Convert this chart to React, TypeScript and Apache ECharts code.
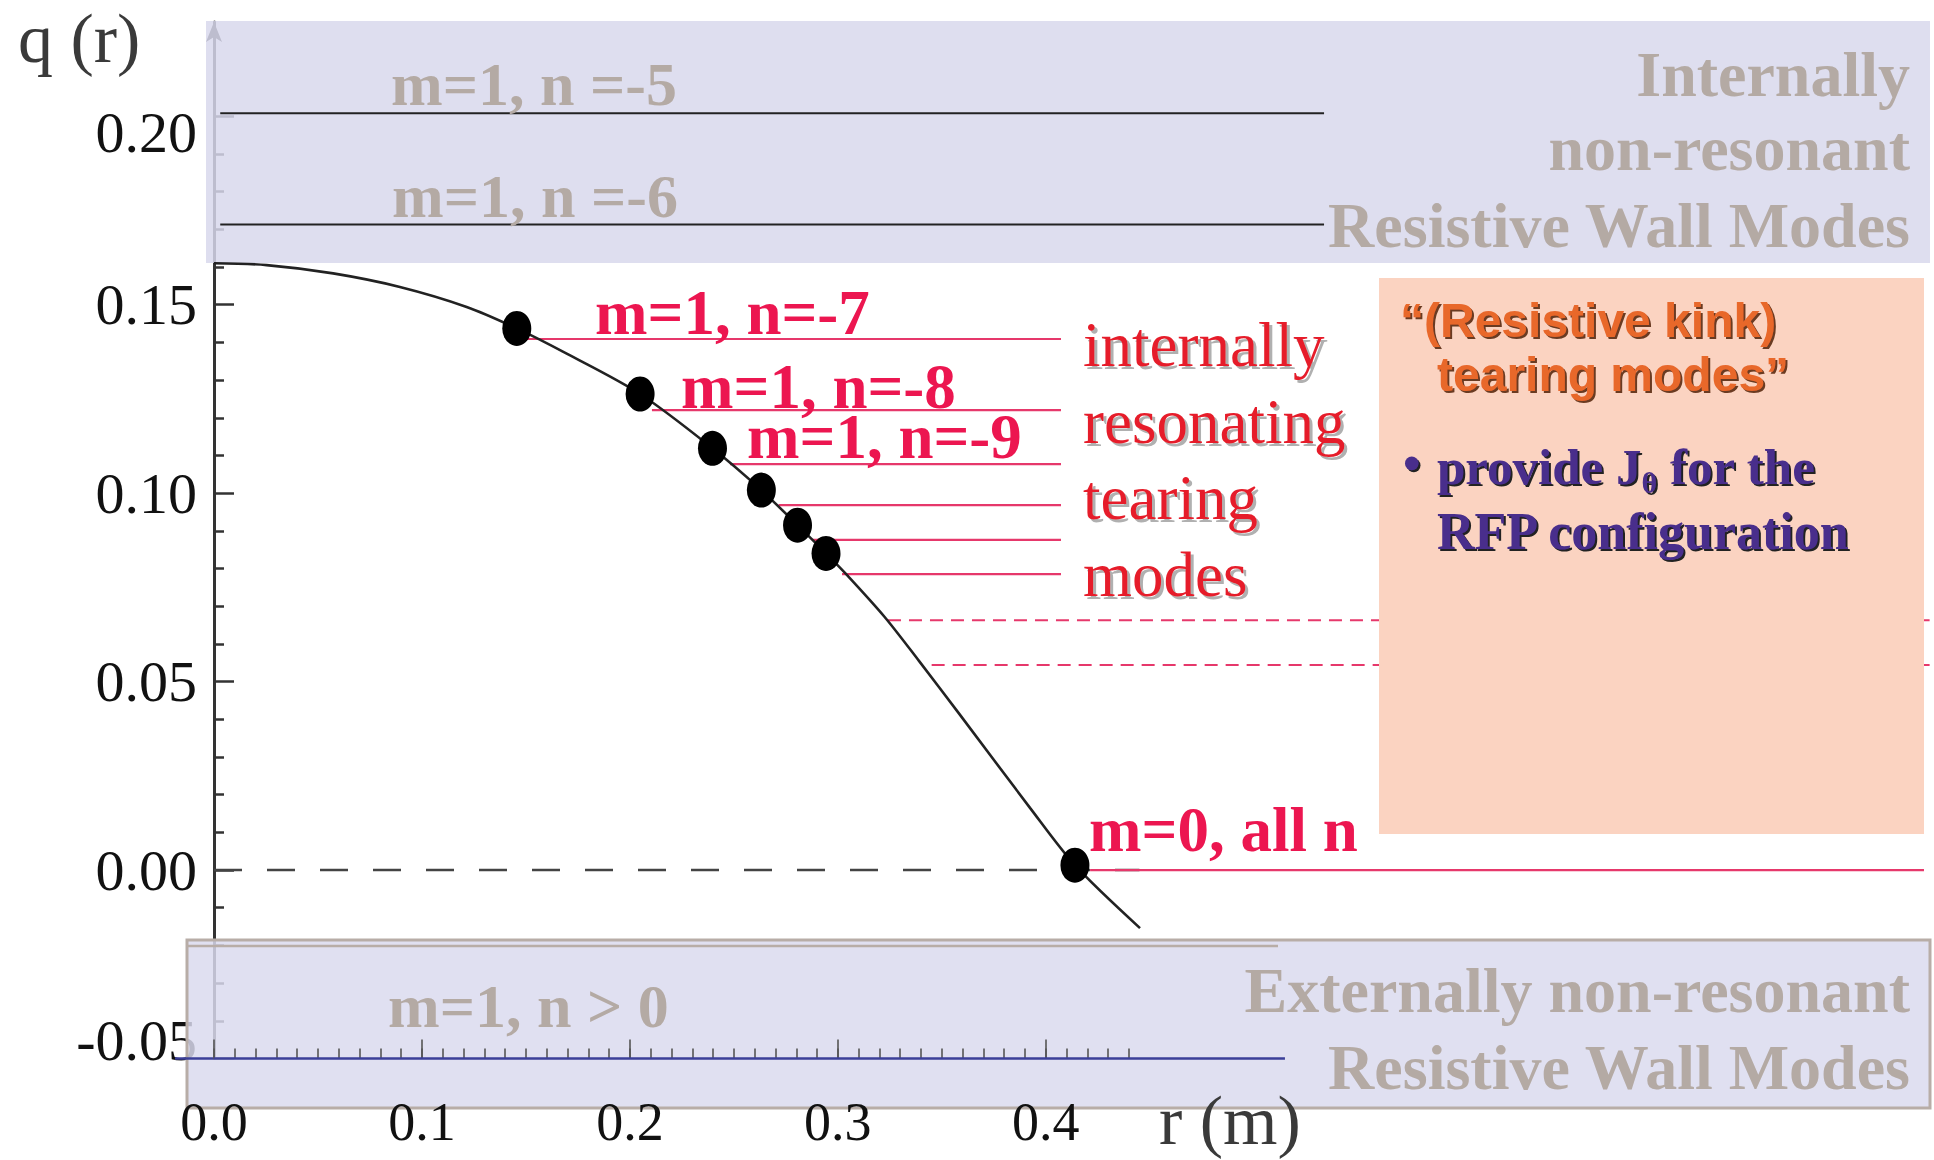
import React, { useEffect, useRef } from 'react';
import * as echarts from 'echarts';

// Safety-factor profile q(r) of the reversed-field pinch
const radius = [0, 0.0253, 0.0573, 0.0894, 0.1215, 0.1456, 0.1696, 0.2049, 0.2397, 0.2632, 0.2806, 0.2943, 0.305, 0.3224, 0.339, 0.3583, 0.3924, 0.414, 0.4453];
const safetyFactor = [0.161, 0.1605, 0.1583, 0.1547, 0.1494, 0.1437, 0.137, 0.1263, 0.1119, 0.1008, 0.0915, 0.084, 0.0779, 0.0672, 0.0555, 0.0415, 0.0165, 0.0013, -0.0154];

// Resonant surfaces marked on the profile (m=1, n=-7 ... -12, then m=0)
const surfaceR = [0.1456, 0.2049, 0.2397, 0.2632, 0.2806, 0.2943, 0.414];
const surfaceQ = [0.1437, 0.1263, 0.1119, 0.1008, 0.0915, 0.084, 0.0013];

// Internally resonating tearing-mode levels
const tearingLabels = ['m=1, n=-7', 'm=1, n=-8', 'm=1, n=-9'];
const tearingQ = [0.1409, 0.122, 0.1077, 0.0968, 0.0876, 0.0785];
const tearingStartR = [0.1486, 0.2106, 0.2481, 0.2715, 0.2876, 0.302];
const tearingEndR = 0.4073;

// Higher-n resonances running out to the right
const highNQ = [0.0663, 0.0544];
const highNStartR = [0.3241, 0.3451];
const highNEndR = 0.825;

// m=0 resonance on the reversal surface
const m0Q = 0;
const m0StartR = 0.4213;
const m0EndR = 0.8223;

// Internally non-resonant resistive wall mode levels (n=-5, n=-6)
const rwmLabels = ['m=1, n =-5', 'm=1, n =-6'];
const rwmQ = [0.2008, 0.1713];
const rwmStartR = 0.003;
const rwmEndR = 0.5338;

// Reference line q = 0
const zeroLineEndR = 0.445;

// Axes
const rMin = 0;
const rMax = 0.825;
const qMin = -0.05;
const qMax = 0.225;
const rAxisLineEnd = 0.515;
const xMajorTicks = [0, 0.1, 0.2, 0.3, 0.4];
const xMinorTicks = Array.from({ length: 45 }, (_, i) => i / 100);
const yMajorTicks = [-0.05, 0, 0.05, 0.1, 0.15, 0.2];
const yMinorTicks = Array.from({ length: 25 }, (_, i) => (i - 4) / 100).filter((v) => Math.round(v * 100) % 5 !== 0);

const SERIF = "'Liberation Serif', 'Times New Roman', serif";
const SANS = "'Liberation Sans', Arial, sans-serif";
const GREY = '#b4aaa4';
const CRIMSON = '#ec1650';
const RED = '#e61f2b';
const LINE_RED = '#e6386b';
const AXIS_BLUE = '#3b3f98';

type TextOpts = {
  align?: 'left' | 'right' | 'center';
  bold?: boolean;
  family?: string;
  fill?: string;
  shadow?: string;
  shadowOffset?: number;
  z?: number;
};

// Text placed by its baseline
function text(str: string, x: number, baseline: number, size: number, o: TextOpts = {}) {
  const align = o.align || 'left';
  const style: any = {
    text: str,
    fill: o.fill || '#333',
    fontSize: size,
    lineHeight: Math.round(size * 0.7),
    fontFamily: o.family || SERIF,
    fontWeight: o.bold ? 'bold' : 'normal',
    align,
    textAlign: align,
    verticalAlign: 'middle',
    textVerticalAlign: 'middle',
  };
  if (o.shadow) {
    style.textShadowColor = o.shadow;
    style.textShadowOffsetX = o.shadowOffset ?? 3;
    style.textShadowOffsetY = o.shadowOffset ?? 3;
    style.textShadowBlur = 1;
  }
  return { type: 'text', x, y: baseline - 0.31 * size, z: o.z ?? 6, silent: true, style };
}

function hLine(r0: number, r1: number, q: number, color: string, width: number, type: any = 'solid', z = 2) {
  return {
    type: 'line',
    data: [[r0, q], [r1, q]],
    symbol: 'none',
    clip: false,
    silent: true,
    z,
    lineStyle: { color, width, type },
  };
}

const series: any[] = [
  // axis line of r, drawn across the lower panel
  { ...hLine(rMin, rAxisLineEnd, qMin, AXIS_BLUE, 2.5), z: 3 },
  hLine(0, zeroLineEndR, 0, '#444', 2.5, [28, 25]),
  ...rwmQ.map((q) => hLine(rwmStartR, rwmEndR, q, '#222', 2)),
  ...tearingQ.map((q, i) => hLine(tearingStartR[i], tearingEndR, q, LINE_RED, 2.2)),
  ...highNQ.map((q, i) => hLine(highNStartR[i], highNEndR, q, LINE_RED, 2, [13, 8])),
  hLine(m0StartR, m0EndR, m0Q, LINE_RED, 2.2),
  {
    type: 'line',
    data: radius.map((r, i) => [r, safetyFactor[i]]),
    smooth: 0.3,
    symbol: 'none',
    clip: false,
    silent: true,
    z: 2,
    lineStyle: { color: '#222', width: 2.6 },
  },
  {
    type: 'scatter',
    data: surfaceR.map((r, i) => [r, surfaceQ[i]]),
    symbol: 'circle',
    symbolSize: [29, 35],
    clip: false,
    silent: true,
    z: 3,
    itemStyle: { color: '#000', opacity: 1 },
  },
];

const yLabelRich = {
  n: { fontSize: 58, fontFamily: SERIF, color: '#111' },
  lo: { fontSize: 58, fontFamily: SERIF, color: '#111', padding: [32, 0, 0, 0] },
  hi: { fontSize: 58, fontFamily: SERIF, color: '#111', padding: [0, 0, 36, 0] },
};

const purpleShadow = { textShadowColor: '#222', textShadowOffsetX: 2, textShadowOffsetY: 2, textShadowBlur: 1 };

const graphic: any[] = [
  // upper panel: internally non-resonant RWMs
  {
    type: 'rect',
    z: 1,
    silent: true,
    shape: { x: 206, y: 21, width: 1724, height: 242 },
    style: { fill: 'rgba(216,216,236,0.84)' },
  },
  // lower panel: externally non-resonant RWMs
  {
    type: 'rect',
    z: 1,
    silent: true,
    shape: { x: 187, y: 940, width: 1743, height: 168 },
    style: { fill: 'rgba(218,218,238,0.84)', stroke: '#b8ada7', lineWidth: 3 },
  },
  {
    type: 'line',
    z: 1,
    silent: true,
    shape: { x1: 187, y1: 946, x2: 1278, y2: 946 },
    style: { stroke: '#b8ada7', lineWidth: 2.5 },
  },
  // stub of the r-axis line reaching left of the q axis
  {
    type: 'line',
    z: 3,
    silent: true,
    shape: { x1: 175, y1: 1058.5, x2: 214, y2: 1058.5 },
    style: { stroke: AXIS_BLUE, lineWidth: 2.5 },
  },
  // note box
  {
    type: 'rect',
    z: 5,
    silent: true,
    shape: { x: 1379, y: 278, width: 545, height: 556 },
    style: { fill: '#fbd3c1' },
  },

  text('q (r)', 18, 60, 70, { fill: '#3a3a3a' }),
  text('r (m)', 1159, 1142, 70, { fill: '#3a3a3a' }),

  text(rwmLabels[0], 391, 103, 62, { bold: true, fill: GREY }),
  text(rwmLabels[1], 392, 215, 62, { bold: true, fill: GREY }),
  text('Internally', 1910, 94, 64, { bold: true, fill: GREY, align: 'right' }),
  text('non-resonant', 1910, 168, 64, { bold: true, fill: GREY, align: 'right' }),
  text('Resistive Wall Modes', 1910, 245, 64, { bold: true, fill: GREY, align: 'right' }),

  text('m=1, n > 0', 388, 1025, 62, { bold: true, fill: GREY }),
  text('Externally non-resonant', 1910, 1010, 64, { bold: true, fill: GREY, align: 'right' }),
  text('Resistive Wall Modes', 1910, 1087, 64, { bold: true, fill: GREY, align: 'right' }),

  text(tearingLabels[0], 595, 333, 63, { bold: true, fill: CRIMSON }),
  text(tearingLabels[1], 681, 407, 63, { bold: true, fill: CRIMSON }),
  text(tearingLabels[2], 747, 457, 63, { bold: true, fill: CRIMSON }),
  text('m=0, all n', 1089, 850, 63, { bold: true, fill: CRIMSON }),

  text('internally', 1083, 365, 63, { fill: RED, shadow: 'rgba(110,110,110,0.55)' }),
  text('resonating', 1083, 442, 63, { fill: RED, shadow: 'rgba(110,110,110,0.55)' }),
  text('tearing', 1083, 518, 63, { fill: RED, shadow: 'rgba(110,110,110,0.55)' }),
  text('modes', 1083, 595, 63, { fill: RED, shadow: 'rgba(110,110,110,0.55)' }),

  text('\u201c(Resistive kink)', 1400, 335, 48, { bold: true, family: SANS, fill: '#e8672c', shadow: '#6a3a22', shadowOffset: 2 }),
  text('tearing modes\u201d', 1437, 389, 48, { bold: true, family: SANS, fill: '#e8672c', shadow: '#6a3a22', shadowOffset: 2 }),
  text('\u2022', 1403, 478, 50, { bold: true, fill: '#4a2f8c', shadow: '#222', shadowOffset: 2 }),
  {
    type: 'text',
    x: 1437,
    y: 483 - 0.31 * 51,
    z: 6,
    silent: true,
    style: {
      text: '{a|provide J}{s|\u03b8}{a| for the}',
      align: 'left',
      textAlign: 'left',
      verticalAlign: 'middle',
      textVerticalAlign: 'middle',
      rich: {
        a: { fontSize: 51, lineHeight: 58, fontFamily: SERIF, fontWeight: 'bold', fill: '#4a2f8c', ...purpleShadow },
        s: { fontSize: 30, lineHeight: 30, padding: [30, 0, 0, 0], fontFamily: SERIF, fontWeight: 'bold', fill: '#4a2f8c', ...purpleShadow },
      },
    },
  },
  text('RFP configuration', 1437, 548, 52, { bold: true, fill: '#4a2f8c', shadow: '#222', shadowOffset: 2 }),
];

const option: any = {
  animation: false,
  backgroundColor: '#ffffff',
  tooltip: { show: false },
  grid: { left: 214, right: 4.4, top: 22, bottom: 101.5, containLabel: false, outerBoundsMode: 'none' },
  xAxis: [
    {
      type: 'value',
      min: rMin,
      max: rMax,
      position: 'bottom',
      z: 3,
      axisLine: { show: false, onZero: false },
      splitLine: { show: false },
      axisTick: { show: true, inside: true, length: 19, customValues: xMajorTicks, lineStyle: { color: '#555', width: 1.6 } },
      axisLabel: {
        show: true,
        customValues: xMajorTicks,
        margin: 36,
        fontSize: 54,
        fontFamily: SERIF,
        color: '#111',
        formatter: (v: number) => v.toFixed(1),
      },
    },
    {
      type: 'value',
      min: rMin,
      max: rMax,
      position: 'bottom',
      z: 3,
      axisLine: { show: false, onZero: false },
      splitLine: { show: false },
      axisLabel: { show: false },
      axisTick: { show: true, inside: true, length: 10, customValues: xMinorTicks, lineStyle: { color: '#555', width: 1.6 } },
    },
  ],
  yAxis: [
    {
      type: 'value',
      min: qMin,
      max: qMax,
      interval: 0.05,
      position: 'left',
      z: 0,
      axisLine: {
        show: true,
        onZero: false,
        symbol: ['none', 'arrow'],
        symbolSize: [12, 20],
        lineStyle: { color: '#333', width: 3 },
      },
      splitLine: { show: false },
      axisTick: { show: true, inside: true, length: 20, customValues: yMajorTicks, lineStyle: { color: '#333', width: 2.5 } },
      axisLabel: {
        show: true,
        customValues: yMajorTicks,
        margin: 17,
        fontSize: 58,
        fontFamily: SERIF,
        color: '#111',
        formatter: (v: number) => {
          const s = v.toFixed(2);
          if (v > 0.19) return `{lo|${s}}`;
          if (v < -0.04) return `{hi|${s}}`;
          return `{n|${s}}`;
        },
        rich: yLabelRich,
      },
    },
    {
      type: 'value',
      min: qMin,
      max: qMax,
      interval: 0.01,
      position: 'left',
      offset: 0,
      z: 0,
      axisLine: { show: false, onZero: false },
      splitLine: { show: false },
      axisLabel: { show: false },
      axisTick: { show: true, inside: true, length: 10, customValues: yMinorTicks, lineStyle: { color: '#333', width: 2.5 } },
    },
  ],
  series,
  graphic: { elements: graphic },
};

export default function App() {
  const ref = useRef<HTMLDivElement>(null);
  useEffect(() => {
    if (!ref.current) return;
    const chart = echarts.init(ref.current, null, { renderer: 'svg' });
    chart.setOption(option);
    return () => chart.dispose();
  }, []);
  return (
    <div
      ref={ref}
      style={{ position: 'absolute', left: 0, top: 0, width: 1934, height: 1160, background: '#fff' }}
    />
  );
}
